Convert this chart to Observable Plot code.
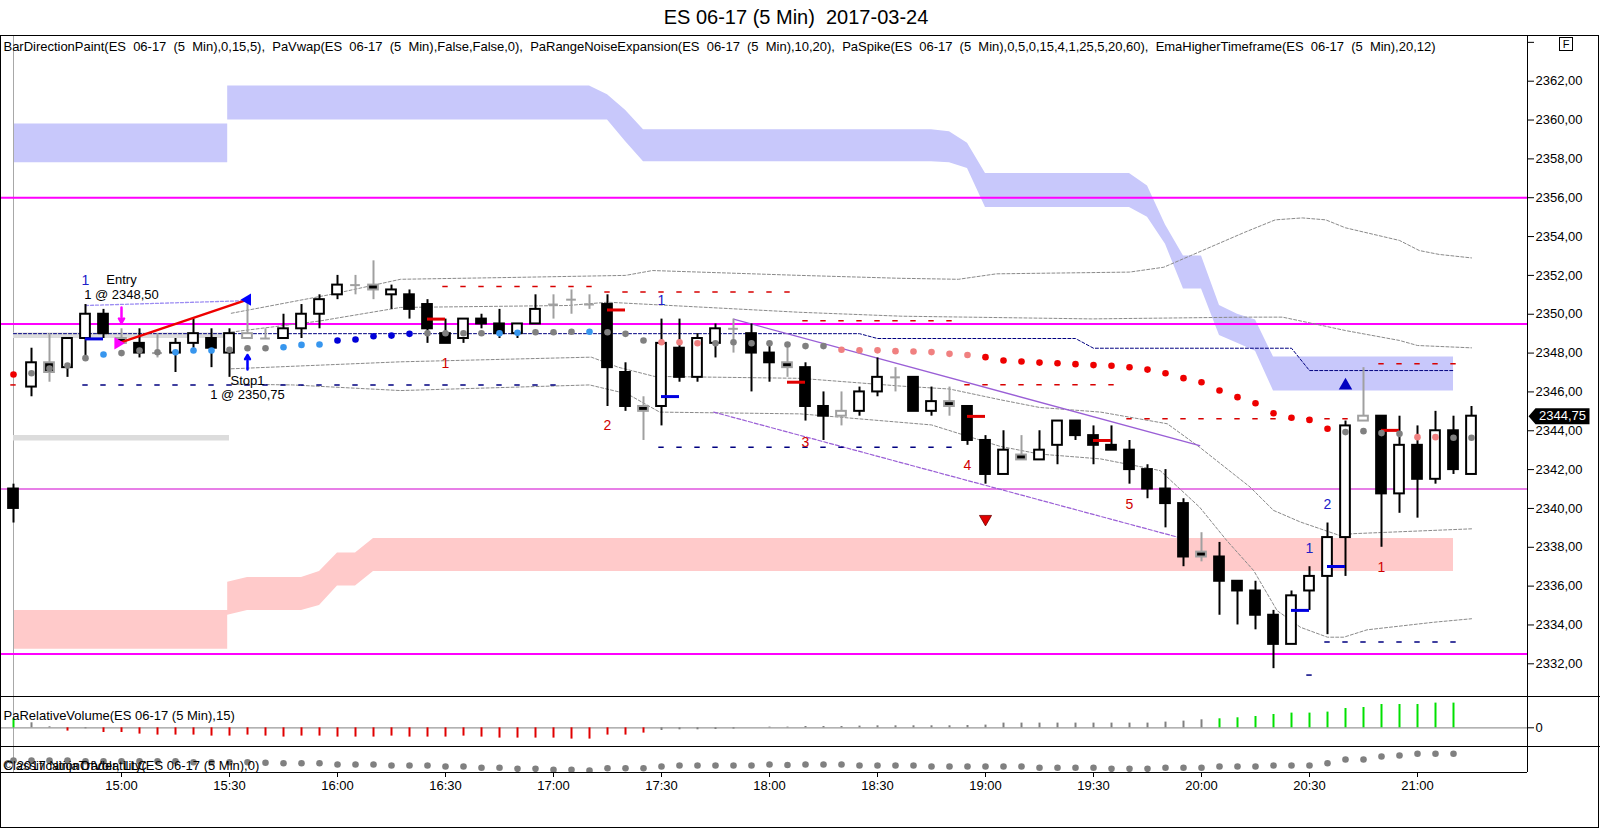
<!DOCTYPE html>
<html>
<head>
<meta charset="utf-8">
<script src="https://cdn.jsdelivr.net/npm/d3@7"></script>
<script src="https://cdn.jsdelivr.net/npm/@observablehq/plot@0.6"></script>
<style>
  html,body{margin:0;padding:0;background:#fff;}
  #wrap{position:relative;width:1600px;height:828px;overflow:hidden;font-family:"Liberation Sans",Arial,sans-serif;color:#000;}
  .abs{position:absolute;}
  .ln{position:absolute;background:#000;}
</style>
</head>
<body>
<div id="wrap">
  <div id="title" class="abs" style="left:0;top:5px;width:1592px;text-align:center;font-size:20px;line-height:24px;white-space:pre;">ES 06-17 (5 Min)  2017-03-24</div>
  <div id="price" class="abs" style="left:0;top:35px;"></div>
  <div id="vol" class="abs" style="left:0;top:697px;"></div>
  <div id="volat" class="abs" style="left:0;top:747px;"></div>
  <div class="abs" style="left:0;top:35px;width:1599px;height:793px;border:1px solid #000;box-sizing:border-box;"></div>
  <div class="ln" style="left:0;top:696px;width:1600px;height:1px;"></div>
  <div class="ln" style="left:0;top:746px;width:1600px;height:1px;"></div>
  <div class="ln" style="left:0;top:772px;width:1527px;height:1px;"></div>
  <div class="ln" style="left:1527px;top:35px;width:1px;height:737px;"></div>
  <div class="abs" style="left:1559px;top:37px;width:12px;height:12px;border:1px solid #000;font-size:11px;line-height:12px;text-align:center;">F</div>
</div>
<script>
// ---------------- DATA ----------------
const barTimes = ["14:30","14:35","14:40","14:45","14:50","14:55",
"15:00","15:05","15:10","15:15","15:20","15:25","15:30","15:35","15:40","15:45","15:50","15:55",
"16:00","16:05","16:10","16:15","16:20","16:25","16:30","16:35","16:40","16:45","16:50","16:55",
"17:00","17:05","17:10","17:15","17:20","17:25","17:30","17:35","17:40","17:45","17:50","17:55",
"18:00","18:05","18:10","18:15","18:20","18:25","18:30","18:35","18:40","18:45","18:50","18:55",
"19:00","19:05","19:10","19:15","19:20","19:25","19:30","19:35","19:40","19:45","19:50","19:55",
"20:00","20:05","20:10","20:15","20:20","20:25","20:30","20:35","20:40","20:45","20:50","20:55",
"21:00","21:05","21:10","21:15"];
const xTickLabels = ["15:00","15:30","16:00","16:30","17:00","17:30","18:00","18:30","19:00","19:30","20:00","20:30","21:00"];

const opens = [
2341,2346.25,2347.5,2347.25,2348.75,2350,2348.75,2348.5,2348,2348,
2348.5,2348.75,2348,2348.75,2348.75,2348.75,2349.25,2350,2351,2351.5,
2351.5,2351,2351,2350.5,2349,2348.75,2349.75,2349.5,2349,2349.5,
2350.5,2350.75,2350.5,2350.5,2347,2345.25,2345.25,2348.25,2346.75,2348.5,
2349.25,2349,2348,2347.5,2347.25,2345.25,2344.75,2345,2346,2346.75,
2346.75,2345,2345.5,2345.25,2343.5,2341.75,2342.75,2342.5,2343.25,2344.5,
2343.75,2343.25,2343,2342,2341,2340.25,2337.75,2337.5,2336.25,2335.75,
2334.5,2333,2335.75,2336.5,2338.5,2344.5,2344.75,2340.75,2343.25,2341.5,
2344,2341.75];
const highs = [
2341.25,2348.25,2349,2348.75,2350.5,2350.25,2349.25,2349.25,2349,2348.75,
2349.75,2349.25,2349.25,2350.75,2349.25,2350,2350.5,2351,2352,2352,
2352.75,2351.5,2351.25,2350.75,2349.75,2349.75,2350,2350.25,2349.5,2351,
2351,2351.25,2351,2351,2347.5,2345.75,2349.75,2349.75,2349,2349.5,
2349.75,2349.5,2348.5,2348.5,2347.5,2346,2346,2346.25,2347.75,2347.25,
2346.75,2346.25,2346.25,2345.25,2343.75,2344,2343.75,2344,2344.5,2344.5,
2344.25,2344.25,2343.5,2342.25,2342,2340.5,2338.75,2338.25,2336.25,2336.25,
2334.75,2335.75,2337,2339.25,2344.5,2347.25,2344.75,2344.75,2344.25,2345,
2344.75,2345.25];
const lows = [
2339.25,2345.75,2346.5,2346.75,2347.75,2348.75,2348.5,2347.75,2347.75,2347,
2348.25,2347.25,2346.75,2348.75,2348.75,2348.75,2348.75,2349.25,2350.75,2351,
2350.75,2350.25,2349.75,2348.5,2348.5,2348.5,2349.25,2348.75,2348.75,2349.5,
2349.75,2350,2350.25,2345.25,2345,2343.5,2344.25,2346.5,2346.5,2347.75,
2348,2346,2346.5,2346.75,2344.5,2343.5,2344.25,2344.75,2345.75,2346,
2345,2344.75,2344.75,2343.25,2341.25,2341.75,2342.5,2342.5,2342.25,2343.5,
2342.25,2343,2341.25,2340.5,2339,2337,2337.25,2334.5,2334,2333.75,
2331.75,2333,2334.75,2333.5,2336.5,2344.5,2338,2339.75,2339.5,2341.25,
2341.75,2341.75];
const closes = [
2340,2347.5,2347,2348.75,2350,2349,2348.5,2348,2348,2348.5,
2349,2348.25,2349,2349,2348.75,2349.25,2350,2350.75,2351.5,2351.5,
2351.25,2351.25,2350.25,2349.25,2348.5,2349.75,2349.5,2349,2349.5,2350.25,
2350.5,2350.75,2350.5,2347.25,2345.25,2345,2348.5,2346.75,2348.75,2349.25,
2349.25,2348,2347.5,2347.25,2345.25,2344.75,2345,2346,2346.75,2346.75,
2345,2345.5,2345.25,2343.5,2341.75,2343,2342.5,2343,2344.5,2343.75,
2343.25,2343,2342,2341,2340.25,2337.5,2337.5,2336.25,2335.75,2334.5,
2333,2335.5,2336.5,2338.5,2344.25,2344.75,2340.75,2343.25,2341.5,2344,
2342,2344.75];
// U up, D down, GU/GD gray small up/down, GX gray cross
const paints = [
"D","U","GD","U","U","D","GD","D","GX","U",
"U","D","U","GU","GX","U","U","U","U","GX",
"GD","U","D","D","D","U","D","D","U","U",
"GX","GX","GX","D","D","GD","U","D","U","U",
"GX","D","D","GD","D","D","GU","U","U","GX",
"D","U","GD","D","D","U","GD","U","U","D",
"D","D","D","D","D","D","GD","D","D","D",
"D","U","U","U","U","GU","D","U","D","U",
"D","U"];

const emaVals = [
2346.9,2346.96,2347.2,2347.36,2347.74,2347.93,2348.0,2348.13,2348.04,2348.04,
2348.13,2348.13,2348.17,2348.25,2348.25,2348.3,2348.42,2348.44,2348.65,2348.7,
2348.87,2348.9,2348.99,2349.02,2349.02,2349.02,2349.02,2349.02,2349.05,2349.07,
2349.07,2349.1,2349.1,2349.07,2348.99,2348.65,2348.56,2348.56,2348.51,2348.51,
2348.56,2348.51,2348.51,2348.44,2348.36,2348.36,2348.17,2348.14,2348.14,2348.1,
2348.08,2348.05,2347.96,2347.9,2347.79,2347.62,2347.57,2347.51,2347.48,2347.43,
2347.38,2347.35,2347.27,2347.15,2346.96,2346.71,2346.5,2346.07,2345.73,2345.42,
2344.9,2344.67,2344.56,2344.1,2343.93,2343.98,2343.88,2343.84,2343.67,2343.67,
2343.64,2343.64];
const emaColors = [
"r","g","g","g","g","b","g","g","g","b",
"b","b","g","g","g","b","b","b","B","B",
"B","B","B","g","g","g","g","b","b","g",
"g","g","b","g","g","g","p","p","p","g",
"g","g","g","g","g","g","p","p","p","p",
"p","p","p","p","r","r","r","r","r","r",
"r","r","r","r","r","r","r","r","r","r",
"r","r","r","r","g","g","g","g","p","p",
"g","g"];

// higher timeframe bands (bar position, upper, lower)
const blueIdx = [0,11.9,11.9,32,33,34,35,51,52,53,54,62,63,64,65,66,67,68,69,70,80];
const blueHi  = [2359.8,2359.8,2361.75,2361.75,2361.3,2360.5,2359.5,2359.5,2359.4,2358.8,2357.25,2357.25,2356.6,2354.6,2353.0,2353.0,2350.45,2350.0,2349.7,2347.8,2347.8];
const blueLo  = [2357.8,2357.8,2360.0,2360.0,2360.0,2358.9,2357.85,2357.85,2357.8,2357.5,2355.5,2355.5,2355.0,2353.6,2351.3,2351.3,2348.9,2348.5,2348.1,2346.05,2346.05];
const pinkIdx = [0,11.9,11.9,13,16,17,18,19,20,80];
const pinkHi  = [2334.75,2334.75,2336.2,2336.45,2336.45,2336.75,2337.7,2337.7,2338.45,2338.45];
const pinkLo  = [2332.75,2332.75,2334.5,2334.75,2334.75,2335.0,2336.0,2336.0,2336.75,2336.75];

// PaVwap band lines [bar position, price]
const vwapA = [[12.1,2350.05],[17.8,2351.05],[21.5,2351.8],[28,2351.9],[34,2352.0],[35.5,2352.25],[43.7,2352.0],[49.3,2351.85],[52.5,2351.8],[54.6,2352.08],[62,2352.17],[63.9,2352.42],[65.4,2353.02],[68.4,2354.22],[70.1,2354.86],[71.6,2354.96],[72.9,2354.86],[74,2354.45],[77,2353.8],[78.1,2353.28],[79.2,2353.08],[81,2352.9]];
const vwapB = [[12.1,2349.08],[17,2349.65],[21.5,2350.35],[30.8,2350.45],[33,2350.62],[43.7,2350.1],[49.3,2349.9],[59.9,2349.76],[68.4,2349.85],[70.5,2349.85],[72.7,2349.42],[74,2349.16],[77,2348.65],[78,2348.39],[81,2348.27]];
const vwapC = [[12.1,2347.19],[21.5,2347.55],[32.1,2347.79],[33.6,2347.27],[35.6,2346.8],[43.7,2346.7],[49.3,2346.3],[52,2346.15],[54.8,2345.6],[57,2345.2],[60.4,2344.96],[64.1,2344.36],[65.9,2343.15],[68.7,2341.1],[70,2339.9],[71.5,2339.3],[73.7,2338.6],[74.4,2338.7],[81,2338.95]];
const vwapD = [[12.1,2346.4],[15.5,2346.36],[21.5,2346.07],[32,2346.36],[34.1,2345.9],[35.9,2344.96],[43.7,2344.87],[51,2344.3],[54.8,2343.2],[57,2342.8],[60.4,2342.55],[63.7,2341.95],[65.9,2340.06],[67.4,2338.35],[68.9,2336.8],[70.2,2334.74],[71.5,2333.88],[73,2333.37],[73.9,2333.37],[75.2,2333.75],[78.9,2334.14],[81,2334.32]];
const vwapMain = [[0,2349],[47,2349],[48,2348.75],[59,2348.75],[60,2348.25],[71,2348.25],[72,2347.1],[80,2347.1]];
const prevLevels = [{a:0,b:12,p:2348.92},{a:0,b:12,p:2343.64}];

const magentaThick = [2356, 2349.5, 2332.5];
const magentaThin = [2341];

// PaSpike channel and trade
const spikeTop = [[40,2349.75],[65.9,2343.24]];
const spikeBottom = [[38.9,2344.96],[65,2338.44]];
const entryGuide = [[4,2350.45],[13,2350.7]];
const tradeLine = [[5.8,2348.5],[13,2350.75]];

// PaRangeNoiseExpansion levels
const redRows = [{a:0,b:0,p:2346.36},{a:24,b:32,p:2351.43},{a:33,b:43,p:2351.14},{a:44,b:52,p:2349.66},{a:53,b:61,p:2346.37},{a:62,b:74,p:2344.62},{a:76,b:80,p:2347.45}];
const navyRows = [{a:4,b:30,p:2346.36},{a:36,b:52,p:2343.15},{a:72,b:72,p:2331.42},{a:73,b:80,p:2333.12}];

const redMarks = [{i:23,p:2349.75},{i:33,p:2350.22},{i:43,p:2346.5},{i:53,p:2344.74},{i:60,p:2343.5},{i:76,p:2344.02}];
const blueMarks = [{i:4,p:2348.73},{i:36,p:2345.76},{i:71,p:2334.75},{i:73,p:2337.01}];

const redLabels = [{i:24,p:2347.45,t:"1"},{i:33,p:2344.27,t:"2"},{i:44,p:2343.41,t:"3"},{i:53,p:2342.21,t:"4"},{i:62,p:2340.2,t:"5"},{i:76,p:2336.97,t:"1"}];
const blueLabels = [{i:4,p:2351.72,t:"1"},{i:36,p:2350.71,t:"1"},{i:72,p:2337.92,t:"1"},{i:73,p:2340.2,t:"2"}];
const tradeNotes = [{i:6,p:2351.78,t:"Entry"},{i:6,p:2350.98,t:"1 @ 2348,50"},{i:13,p:2346.59,t:"Stop1"},{i:13,p:2345.85,t:"1 @ 2350,75"}];

const lastPrice = 2344.75;
const yTicks = [2332,2334,2336,2338,2340,2342,2344,2346,2348,2350,2352,2354,2356,2358,2360,2362,2364];

const relVolume = [9,5,1,-3.3,-1,-4.7,-4.7,-6.3,-7.3,-7.3,
-7.3,-8.3,-8.3,-7.3,-8.3,-9.3,-8.3,-8.3,-9.3,-9.3,
-9.3,-8.3,-9.3,-9.3,-9.3,-8.3,-9.3,-10.3,-10.3,-10.3,
-10.3,-11.3,-11.3,-7.3,-7.3,-5.3,-2.7,-2,-2,-1.7,
-1.3,0,0.7,0.7,1.3,1.3,1.3,1.7,2,2,
2,2,2,2.3,2.7,4.7,4.7,4.7,4.7,4.7,
4.7,4.7,4.7,4.7,5.7,6.7,8,9,10,11.3,
13.3,14.7,14.7,15.7,19.3,20.3,23.3,23.3,23.3,24.7,
24.7];
const relVolumeColors = ["G","g","g","r","g",
"r","r","r","r","r","r","r","r","r","r","r","r","r","r","r","r","r","r","r","r","r","r","r","r","r","r","r","r","r","r","r",
"g","g","g","g","g","g","g","g","g","g","g","g","g","g","g","g","g","g","g","g","g","g","g","g","g","g","g","g","g","g","g",
"G","G","G","G","G","G","G","G","G","G","G","G","G","G"];
const volatility = [12,12,12,12,11.3,11.3,11.3,11.3,11.3,11.3,
10.3,10.3,10.3,10.3,9.7,9.3,9.3,9.3,8,8,
8,7,7,7,6,6,4.7,4.7,3.7,3.7,
2.7,2.7,2,4.3,4.3,4.3,6,7,7,7,
7,7,8,7.5,8,8,8,7,7,7,
7,6,6,6,6,6,6,4.7,4.7,4.7,
4.7,3.7,3.7,3.7,4.7,4.7,4.7,6,6,6,
7,7,7,9.3,13,13,16,17,18.7,18.7,
18.7];

const headerText = "BarDirectionPaint(ES  06-17  (5  Min),0,15,5),  PaVwap(ES  06-17  (5  Min),False,False,0),  PaRangeNoiseExpansion(ES  06-17  (5  Min),10,20),  PaSpike(ES  06-17  (5  Min),0,5,0,15,4,1,25,5,20,60),  EmaHigherTimeframe(ES  06-17  (5  Min),20,12)";

// ---------------- LAYOUT ----------------
const W = 1600, AX = 1527;
const xDomain = [-13/18, (AX - 13) / 18];
const font = '"Liberation Sans", Arial, sans-serif';
const baseStyle = {fontFamily: font, fontSize: "13px", background: "transparent", overflow: "visible", color: "#000"};
const fmtPrice = d => d3.format(".2f")(d).replace(".", ",");

const bars = opens.map((o, i) => ({i, o, h: highs[i], l: lows[i], c: closes[i], paint: paints[i]}));
const isGray = d => d.paint[0] === "G";
const grayC = "#a0a0a0";
const emaPalette = {g: "#808080", b: "#3796ee", B: "#0000d8", p: "#f08080", r: "#ee0000"};
const ema = emaVals.map((p, i) => ({i, p, c: emaPalette[emaColors[i]]}));
const blueBand = blueIdx.map((x, k) => ({x, hi: blueHi[k], lo: blueLo[k]}));
const pinkBand = pinkIdx.map((x, k) => ({x, hi: pinkHi[k], lo: pinkLo[k]}));
const X = d => d[0], Y = d => d[1];
const grayLine = pts => Plot.line(pts, {x: X, y: Y, stroke: "#8a8a8a", strokeWidth: 1, strokeDasharray: "3,2"});

const pricePlot = Plot.plot({
  width: W, height: 662,
  marginLeft: 0, marginRight: W - AX, marginTop: 0, marginBottom: 0,
  style: baseStyle,
  color: {type: "identity"},
  x: {domain: xDomain, axis: null},
  y: {domain: [2330.265, 2364.353], axis: "right", ticks: yTicks, tickSize: 6, tickPadding: 2, label: null,
      tickFormat: d => d === 2364 ? "" : fmtPrice(d)},
  marks: [
    Plot.areaY(blueBand, {x: "x", y1: "lo", y2: "hi", fill: "#c8c8fb", curve: "linear"}),
    Plot.areaY(pinkBand, {x: "x", y1: "lo", y2: "hi", fill: "#ffcaca", curve: "linear"}),
    Plot.ruleX([0], {stroke: "#a8a8a8", strokeWidth: 1}),
    Plot.ruleY(prevLevels, {y: "p", x1: "a", x2: "b", stroke: "#dcdcdc", strokeWidth: 5.5}),
    Plot.ruleY(magentaThick, {stroke: "#ff00ff", strokeWidth: 2}),
    Plot.ruleY(magentaThin, {stroke: "#d000d0", strokeWidth: 1.2}),
    grayLine(vwapA), grayLine(vwapB), grayLine(vwapC), grayLine(vwapD),
    Plot.line(vwapMain, {x: X, y: Y, stroke: "#000080", strokeWidth: 1, strokeDasharray: "3,2"}),
    Plot.line(spikeTop, {x: X, y: Y, stroke: "#9a5fd6", strokeWidth: 1.3}),
    Plot.line(spikeBottom, {x: X, y: Y, stroke: "#9a5fd6", strokeWidth: 1.2, strokeDasharray: "4,2"}),
    Plot.line(entryGuide, {x: X, y: Y, stroke: "#9c8cf2", strokeWidth: 1.3, strokeDasharray: "3,2"}),
    Plot.ruleY(redRows, {y: "p", x1: d => d.a - 0.15, x2: d => d.b + 0.15, stroke: "#d80000", strokeWidth: 1.5, strokeDasharray: "5.4,12.6"}),
    Plot.ruleY(navyRows, {y: "p", x1: d => d.a - 0.15, x2: d => d.b + 0.15, stroke: "#000080", strokeWidth: 1.5, strokeDasharray: "5.4,12.6"}),
    // candles
    Plot.ruleX(bars, {x: "i", y1: "l", y2: "h", stroke: d => isGray(d) ? grayC : "#000", strokeWidth: 2}),
    Plot.rect(bars.filter(d => d.paint !== "GX"), {
      x1: d => d.i - 0.27, x2: d => d.i + 0.27, y1: "o", y2: "c",
      fill: d => (d.paint === "U" || d.paint === "GU") ? "#fff" : "#000",
      stroke: d => isGray(d) ? grayC : "#000", strokeWidth: 2}),
    Plot.ruleY(bars.filter(d => d.paint === "GX"), {y: "c", x1: d => d.i - 0.27, x2: d => d.i + 0.27, stroke: grayC, strokeWidth: 2}),
    Plot.ruleY(redMarks, {y: "p", x1: "i", x2: d => d.i + 1, stroke: "#e00000", strokeWidth: 3}),
    Plot.ruleY(blueMarks, {y: "p", x1: "i", x2: d => d.i + 1, stroke: "#0000e0", strokeWidth: 3}),
    Plot.dot(ema, {x: "i", y: "p", fill: "c", r: 3.3}),
    // trade
    Plot.line(tradeLine, {x: X, y: Y, stroke: "#ee0000", strokeWidth: 2.5}),
    Plot.dot([tradeLine[0]], {x: X, y: Y, symbol: "triangle", rotate: 90, r: 4.5, fill: "#ff00ff"}),
    Plot.dot([tradeLine[1]], {x: X, y: Y, symbol: "triangle", rotate: -90, r: 4.5, fill: "#0000ff"}),
    Plot.arrow([{x1: 6, y1: 2350.35, x2: 6, y2: 2349.55}], {x1: "x1", y1: "y1", x2: "x2", y2: "y2", stroke: "#ff00ff", strokeWidth: 2.5, headLength: 7}),
    Plot.arrow([{x1: 13, y1: 2347.15, x2: 13, y2: 2347.9}], {x1: "x1", y1: "y1", x2: "x2", y2: "y2", stroke: "#0000ff", strokeWidth: 2.5, headLength: 7}),
    Plot.dot([{i: 54, p: 2339.46}], {x: "i", y: "p", symbol: "triangle", rotate: 180, r: 4.5, fill: "#e00000", stroke: "#700000", strokeWidth: 0.8}),
    Plot.dot([{i: 74, p: 2346.33}], {x: "i", y: "p", symbol: "triangle", r: 5, fill: "#0000c0"}),
    // labels
    Plot.text(redLabels, {x: "i", y: "p", text: "t", fill: "#d00000", fontSize: 14}),
    Plot.text(blueLabels, {x: "i", y: "p", text: "t", fill: "#2020c8", fontSize: 14}),
    Plot.text(tradeNotes, {x: "i", y: "p", text: "t", fill: "#000", fontSize: 13}),
    // last price tag
    Plot.dot([{x: xDomain[1], p: lastPrice}], {x: "x", y: "p", fill: "#000", r: 5,
      symbol: {draw(ctx) { ctx.moveTo(1, 0); ctx.lineTo(8, -8); ctx.lineTo(62, -8); ctx.lineTo(62, 8); ctx.lineTo(8, 8); ctx.closePath(); }}}),
    Plot.text([{x: xDomain[1], p: lastPrice}], {x: "x", y: "p", text: d => fmtPrice(d.p), dx: 35, fill: "#fff", fontSize: 13}),
    // header
    Plot.text([headerText], {frameAnchor: "top-left", dx: 3, dy: 11, textAnchor: "start", lineAnchor: "middle", fontSize: 13, fill: "#000"})
  ]
});
pricePlot.querySelectorAll("text").forEach(t => {
  if (t.textContent.startsWith("BarDirectionPaint")) {
    t.setAttribute("textLength", 1432);
    t.setAttribute("lengthAdjust", "spacing");
    t.style.whiteSpace = "pre";
  }
});
document.getElementById("price").appendChild(pricePlot);

const vol = relVolume.map((v, i) => ({i, v, c: relVolumeColors[i] === "G" ? "#00e000" : relVolumeColors[i] === "r" ? "#e00000" : "#808080"}));
const volPlot = Plot.plot({
  width: W, height: 50,
  marginLeft: 0, marginRight: W - AX, marginTop: 0, marginBottom: 0,
  style: baseStyle,
  color: {type: "identity"},
  x: {domain: xDomain, axis: null},
  y: {domain: [-19.7, 30.3], axis: "right", ticks: [0], tickFormat: d => String(d), tickSize: 6, tickPadding: 2, label: null},
  marks: [
    Plot.ruleX([0], {stroke: "#a8a8a8", strokeWidth: 1}),
    Plot.ruleY([0], {stroke: "#999", strokeWidth: 1.2}),
    Plot.ruleX(vol.filter(d => d.v !== 0), {x: "i", y1: 0, y2: "v", stroke: "c", strokeWidth: 2}),
    Plot.text(["PaRelativeVolume(ES 06-17 (5 Min),15)"], {frameAnchor: "top-left", dx: 3, dy: 18, textAnchor: "start", lineAnchor: "middle", fontSize: 13, fill: "#000"})
  ]
});
document.getElementById("vol").appendChild(volPlot);

const tickIdx = xTickLabels.map(t => barTimes.indexOf(t));
const volatPlot = Plot.plot({
  width: W, height: 80,
  marginLeft: 0, marginRight: W - AX, marginTop: 0, marginBottom: 55,
  style: baseStyle,
  color: {type: "identity"},
  x: {domain: xDomain, ticks: tickIdx, tickFormat: i => barTimes[i], tickSize: 5, tickPadding: 3, label: null},
  y: {domain: [0, 25], axis: null},
  marks: [
    Plot.ruleX([0], {y1: 0, y2: 25, stroke: "#a8a8a8", strokeWidth: 1}),
    Plot.dot(volatility.map((v, i) => ({i, v})), {x: "i", y: "v", r: 3.3, fill: "#808080", clip: true}),
    Plot.text(["ClassificationOfVolatility(ES 06-17 (5 Min),0)"], {frameAnchor: "top-left", dx: 3, dy: 18, textAnchor: "start", lineAnchor: "middle", fontSize: 13, fill: "#000"}),
    Plot.text(["© 2017 NinjaTrader, LLC"], {frameAnchor: "top-left", dx: 3, dy: 18, textAnchor: "start", lineAnchor: "middle", fontSize: 13, fill: "#000"})
  ]
});
document.getElementById("volat").appendChild(volatPlot);
</script>
</body>
</html>
